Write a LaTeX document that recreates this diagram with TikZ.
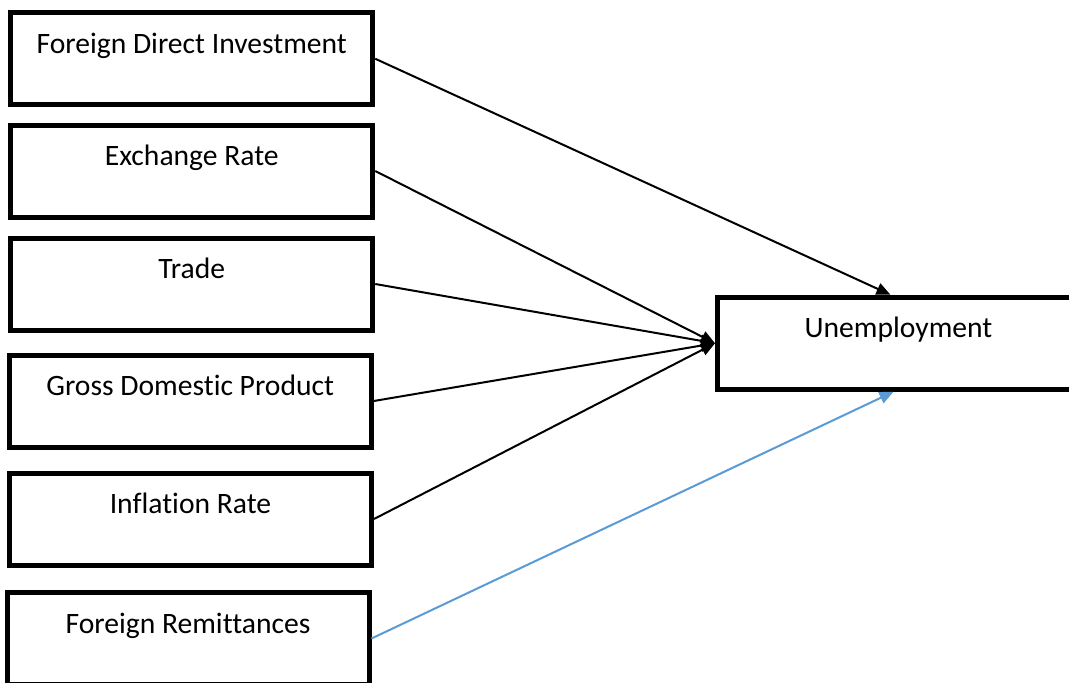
\documentclass[tikz,border=0pt]{standalone}
\usepackage{fontspec}
\setmainfont[Ligatures=NoCommon]{Carlito}
\usetikzlibrary{arrows.meta}
\definecolor{linkblue}{HTML}{5B9BD5}
\begin{document}
\begin{tikzpicture}[x=1pt,y=-1pt,
  varbox/.style={draw=black, line width=5pt, minimum width=362pt, minimum height=92pt, inner sep=0pt, fill=white},
  boxtext/.style={anchor=base, font=\fontsize{29.6}{34}\selectfont},
  link/.style={line width=2pt, -{Triangle[length=14pt,width=12pt]}},
]
\clip (0,0) rectangle (1069,683);
\fill[white] (0,0) rectangle (1069,683);
\node[varbox] (fdi) at (191.75,58.75) {};
\node[varbox] (er)  at (191.75,171) {};
\node[varbox] (tr)  at (191.75,284) {};
\node[varbox] (gdp) at (190.25,401) {};
\node[varbox] (inf) at (190.5,519) {};
\node[varbox] (rem) at (188,638.5) {};
\node[varbox] (un)  at (898.5,343.25) {};
\node[boxtext] at ([yshift=-43pt]fdi.north) {Foreign Direct Investment};
\node[boxtext] at ([yshift=-43pt]er.north) {Exchange Rate};
\node[boxtext] at ([yshift=-43pt]tr.north) {Trade};
\node[boxtext] at ([yshift=-43pt]gdp.north) {Gross Domestic Product};
\node[boxtext] at ([yshift=-43pt]inf.north) {Inflation Rate};
\node[boxtext] at ([yshift=-43pt]rem.north) {Foreign Remittances};
\node[boxtext] at ([yshift=-43pt]un.north) {Unemployment};
\draw[link] (fdi.east) -- ([xshift=-8pt]un.north);
\draw[link] (er.east) -- (un.west);
\draw[link] (tr.east) -- (un.west);
\draw[link] (gdp.east) -- (un.west);
\draw[link] (inf.east) -- (un.west);
\draw[link, draw=linkblue, fill=linkblue] (rem.east) -- ([xshift=-5pt]un.south);
\end{tikzpicture}
\end{document}
